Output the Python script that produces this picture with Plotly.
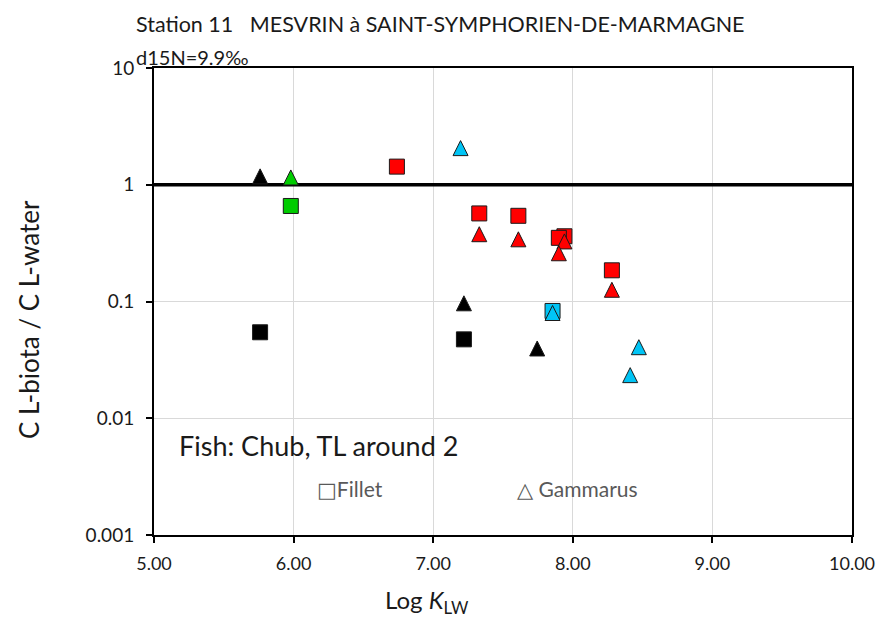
import plotly.graph_objects as go

# --- data: log K_LW (x) and C L-biota / C L-water (y) ---------------------
# Fillet (squares)
fillet_black_x = [5.76, 7.22]
fillet_black_y = [0.0545, 0.0474]
fillet_green_x = [5.98]
fillet_green_y = [0.658]
fillet_red_x = [6.74, 7.33, 7.61, 7.94, 7.90, 8.28]
fillet_red_y = [1.43, 0.568, 0.542, 0.362, 0.351, 0.185]
fillet_cyan_x = [7.855]
fillet_cyan_y = [0.083]

# Gammarus (triangles)
gam_black_x = [5.76, 7.22, 7.745]
gam_black_y = [1.18, 0.0965, 0.0396]
gam_green_x = [5.98]
gam_green_y = [1.155]
gam_red_x = [7.33, 7.61, 7.94, 7.90, 8.28]
gam_red_y = [0.377, 0.341, 0.327, 0.259, 0.126]
gam_cyan_x = [7.196, 7.855, 8.473, 8.411]
gam_cyan_y = [2.06, 0.0797, 0.0406, 0.0234]

x_ticks = [5, 6, 7, 8, 9, 10]
x_tick_text = ["5.00", "6.00", "7.00", "8.00", "9.00", "10.00"]
y_ticks = [0.001, 0.01, 0.1, 1, 10]
y_tick_text = ["0.001", "0.01", "0.1", "1", "10"]
ref_ratio = 1

BLACK = "#000000"
GREEN = "#00CC00"
RED = "#FF0000"
CYAN = "#00C4F5"

W, H = 878, 619
M_L, M_R, M_T, M_B = 154, 26, 68, 84
plot_w = W - M_L - M_R
plot_h = H - M_T - M_B
X_RANGE = [5, 10]
Y_RANGE = [-3, 1]

SQ_SIZE = 15
TRI_SIZE = 15
# arrow-up markers hang from their tip; shift their axis so the triangle is centred on the value
tri_shift = (TRI_SIZE / 2) / plot_h * (Y_RANGE[1] - Y_RANGE[0])

FONT = "Lato, 'Open Sans', sans-serif"
SYM_FONT = "'DejaVu Sans'"

fig = go.Figure()

# reference line at ratio = 1 spanning the x axis, under the markers
fig.add_trace(go.Scatter(
    x=X_RANGE, y=[ref_ratio, ref_ratio], mode="lines", yaxis="y",
    cliponaxis=False, line=dict(color=BLACK, width=3.5), hoverinfo="skip",
))


def add_squares(xs, ys, color, name):
    fig.add_trace(go.Scatter(
        x=xs, y=ys, mode="markers", name=name, yaxis="y", cliponaxis=False,
        marker=dict(symbol="square", size=SQ_SIZE, color=color,
                    line=dict(color="#1a1a1a", width=1)),
    ))


def add_triangles(xs, ys, color, name):
    fig.add_trace(go.Scatter(
        x=xs, y=ys, mode="markers", name=name, yaxis="y2", cliponaxis=False,
        marker=dict(symbol="arrow-up", size=TRI_SIZE, color=color,
                    line=dict(color="#1a1a1a", width=1)),
    ))


add_squares(fillet_black_x, fillet_black_y, BLACK, "Fillet")
add_squares(fillet_green_x, fillet_green_y, GREEN, "Fillet")
add_squares(fillet_red_x, fillet_red_y, RED, "Fillet")
add_squares(fillet_cyan_x, fillet_cyan_y, CYAN, "Fillet")
add_triangles(gam_black_x, gam_black_y, BLACK, "Gammarus")
add_triangles(gam_green_x, gam_green_y, GREEN, "Gammarus")
add_triangles(gam_red_x, gam_red_y, RED, "Gammarus")
add_triangles(gam_cyan_x, gam_cyan_y, CYAN, "Gammarus")

tick_font = dict(family=FONT, size=18, color="#1a1a1a")

fig.update_layout(
    width=W, height=H,
    margin=dict(l=M_L, r=M_R, t=M_T, b=M_B, pad=0, autoexpand=False),
    paper_bgcolor="white", plot_bgcolor="white",
    showlegend=False,
    xaxis=dict(
        range=X_RANGE, tickvals=x_ticks, ticktext=x_tick_text,
        showgrid=True, gridcolor="#D9D9D9", gridwidth=1,
        showline=True, linecolor=BLACK, linewidth=2, mirror=True,
        ticks="outside", ticklen=6, tickwidth=2, tickcolor=BLACK,
        tickfont=tick_font, zeroline=False, ticklabelstandoff=5,
        automargin=False,
    ),
    yaxis=dict(
        type="log", range=Y_RANGE, tickvals=y_ticks, ticktext=y_tick_text,
        showgrid=True, gridcolor="#D9D9D9", gridwidth=1,
        showline=True, linecolor=BLACK, linewidth=2, mirror=True,
        ticks="outside", ticklen=6, tickwidth=2, tickcolor=BLACK,
        tickfont=dict(family=FONT, size=19, color="#1a1a1a"),
        zeroline=False, ticklabelstandoff=8, automargin=False,
    ),
    yaxis2=dict(
        type="log", overlaying="y",
        range=[Y_RANGE[0] - tri_shift, Y_RANGE[1] - tri_shift],
        visible=False, showgrid=False, automargin=False,
    ),
)

NB = "\u00a0"
annotations = [
    dict(text=f"Station 11{NB}{NB}{NB}MESVRIN à SAINT-SYMPHORIEN-DE-MARMAGNE",
         x=134, y=24, font=dict(size=21.5)),
    dict(text="d15N=9.9‰", x=134, y=57, font=dict(size=20)),
    dict(text="C L-biota / C L-water", x=29, y=320, font=dict(size=26),
         xanchor="center", textangle=-90),
    dict(text="Log <i>K</i><sub>LW</sub>", x=427, y=601, font=dict(size=24),
         xanchor="center"),
    dict(text="Fish: Chub, TL around 2", x=177, y=445, font=dict(size=27)),
    dict(text=f"<span style=\"font-family:{SYM_FONT}\">□</span>Fillet",
         x=315, y=489, font=dict(size=21, color="#595959")),
    dict(text=f"<span style=\"font-family:{SYM_FONT}\">△</span> Gammarus",
         x=515, y=489, font=dict(size=21, color="#595959")),
]
for a in annotations:
    f = dict(family=FONT, color="#1a1a1a")
    f.update(a.pop("font"))
    a.setdefault("xanchor", "left")
    # positions above are in pixels from the top-left corner; convert to paper units
    a["x"] = (a["x"] - M_L) / plot_w
    a["y"] = (H - a["y"] - M_B) / plot_h
    fig.add_annotation(xref="paper", yref="paper", showarrow=False,
                       yanchor="middle", font=f, **a)

fig.write_html("out.html")
